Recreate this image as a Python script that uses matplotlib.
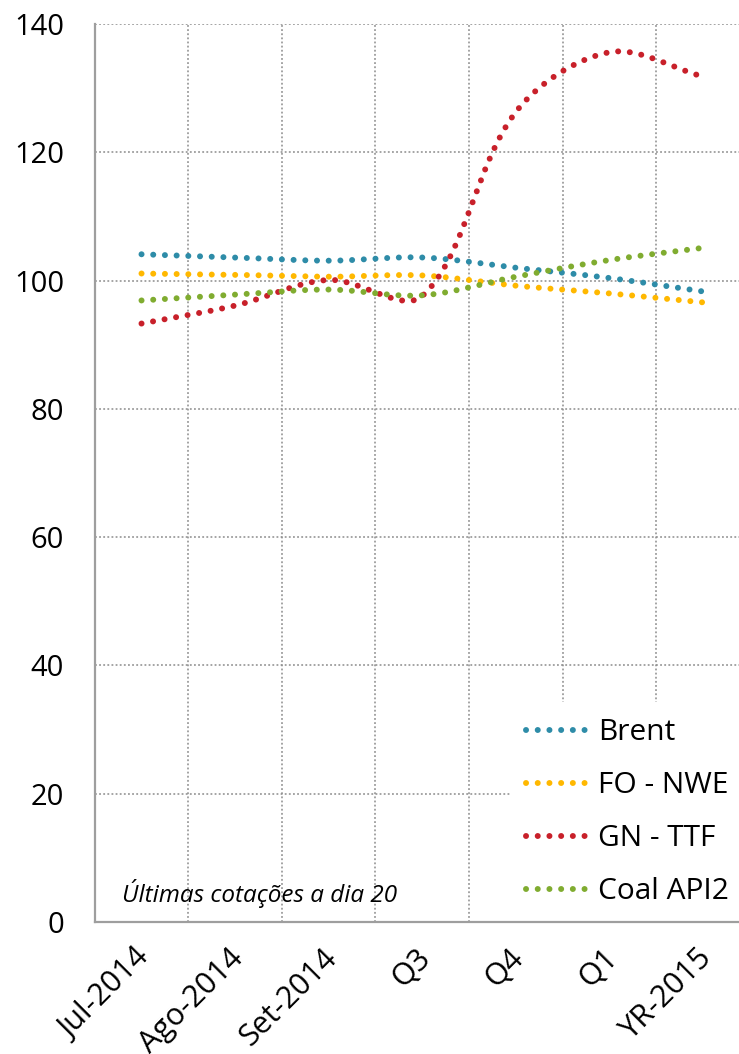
import numpy as np
import matplotlib
matplotlib.use('Agg')
import matplotlib.pyplot as plt
from matplotlib.lines import Line2D
from matplotlib.transforms import ScaledTranslation

# ---- data ----
categories = ['Jul-2014', 'Ago-2014', 'Set-2014', 'Q3', 'Q4', 'Q1', 'YR-2015']
brent = [104.1, 103.6, 103.1, 103.6, 102.0, 100.4, 98.3]
fo_nwe = [101.1, 100.9, 100.6, 100.8, 99.2, 98.0, 96.6]
gn_ttf = [93.3, 96.1, 100.1, 97.6, 126.3, 135.6, 131.8]
coal_api2 = [96.9, 97.8, 98.6, 97.7, 100.6, 103.2, 105.1]
series_names = ['Brent', 'FO - NWE', 'GN - TTF', 'Coal API2']
y_ticks = [0, 20, 40, 60, 80, 100, 120, 140]
note = 'Últimas cotações a dia 20'

colors = ['#2E8CA8', '#FFB800', '#C8202A', '#80AC30']

plt.rcParams['font.family'] = ['Open Sans', 'DejaVu Sans']

W, H = 739, 1054
fig = plt.figure(figsize=(W / 100, H / 100), dpi=100)
ax_left, ax_right, ax_top, ax_bottom = 94.7, 749.9, 24.0, 922.0
ax = fig.add_axes([ax_left / W, 1 - ax_bottom / H, (ax_right - ax_left) / W, (ax_bottom - ax_top) / H])

# pixel scale used for chord-length weighting of the smoothing (like Excel does on screen)
PX_X = (ax_right - ax_left) / len(categories)
PX_Y = (ax_bottom - ax_top) / 140.0


def smooth(y, n=60):
    """Excel-like smoothed curve: Bezier segments with chord-weighted tangents."""
    y = np.asarray(y, float)
    x = np.arange(len(y), dtype=float)
    P = np.column_stack([x * PX_X, y * PX_Y])
    m = len(P)
    out = []
    for i in range(m - 1):
        p0 = P[max(i - 1, 0)]
        p1 = P[i]
        p2 = P[i + 1]
        p3 = P[min(i + 2, m - 1)]
        d01 = np.linalg.norm(p1 - p0)
        d12 = np.linalg.norm(p2 - p1)
        d23 = np.linalg.norm(p3 - p2)
        f1 = d12 / (d01 + d12) if (d01 + d12) > 0 else 0.5
        f2 = d12 / (d12 + d23) if (d12 + d23) > 0 else 0.5
        c1 = p1 + (p2 - p0) * f1 / 3.0
        c2 = p2 - (p3 - p1) * f2 / 3.0
        t = np.linspace(0, 1, n, endpoint=(i == m - 2))[:, None]
        seg = ((1 - t) ** 3) * p1 + 3 * ((1 - t) ** 2) * t * c1 + 3 * (1 - t) * t ** 2 * c2 + t ** 3 * p2
        out.append(seg)
    out = np.vstack(out)
    return out[:, 0] / PX_X, out[:, 1] / PX_Y


LW = 4.3
DOTS = (0, (0.01, 1.95))
all_series = [brent, fo_nwe, gn_ttf, coal_api2]
handles = []
for vals, name, col in zip(all_series, series_names, colors):
    xs, ys = smooth(vals)
    ax.plot(xs, ys, color=col, lw=LW, linestyle=DOTS, dash_capstyle='round',
            label=name, zorder=3)
    handles.append(Line2D([], [], color=col, lw=LW, linestyle=DOTS, dash_capstyle='round'))

ax.set_xlim(-0.5, len(categories) - 0.5)
ax.set_ylim(0, 140)

# grid
grid_kw = dict(color='#8c8c8c', lw=1.1, linestyle=(0, (1.2, 1.5)), zorder=1)
for yv in y_ticks[1:]:
    ax.axhline(yv, **grid_kw)
for xv in np.arange(0.5, len(categories) - 0.5, 1.0):
    ax.axvline(xv, **grid_kw)

for s in ['top', 'right']:
    ax.spines[s].set_visible(False)
for s in ['left', 'bottom']:
    ax.spines[s].set_color('#9e9e9e')
    ax.spines[s].set_linewidth(1.6)
    ax.spines[s].set_zorder(10)

ax.set_yticks(y_ticks)
ax.set_yticklabels([str(v) for v in y_ticks], fontsize=21)
ax.tick_params(axis='y', length=0, pad=22)

ax.set_xticks(range(len(categories)))
ax.set_xticklabels(categories, fontsize=22, rotation=45, ha='right', rotation_mode='anchor')
ax.tick_params(axis='x', length=0, pad=15)
off = ScaledTranslation(-7 / 100, 0, fig.dpi_scale_trans)
for lab in ax.get_xticklabels():
    lab.set_transform(lab.get_transform() + off)

# note
fig.text(122 / W, 1 - 902 / H, note, fontsize=17.5, style='italic', ha='left', va='baseline')

leg = ax.legend(handles, series_names, loc='upper left',
                bbox_to_anchor=(510 / W, 1 - 702 / H), bbox_transform=fig.transFigure,
                fontsize=21.5, frameon=True, facecolor='white', edgecolor='none', framealpha=1,
                fancybox=False, borderaxespad=0, borderpad=0.55, handlelength=2.1,
                handletextpad=0.3, labelspacing=0.8)
leg.set_zorder(5)

fig.savefig('out.png', dpi=100)
